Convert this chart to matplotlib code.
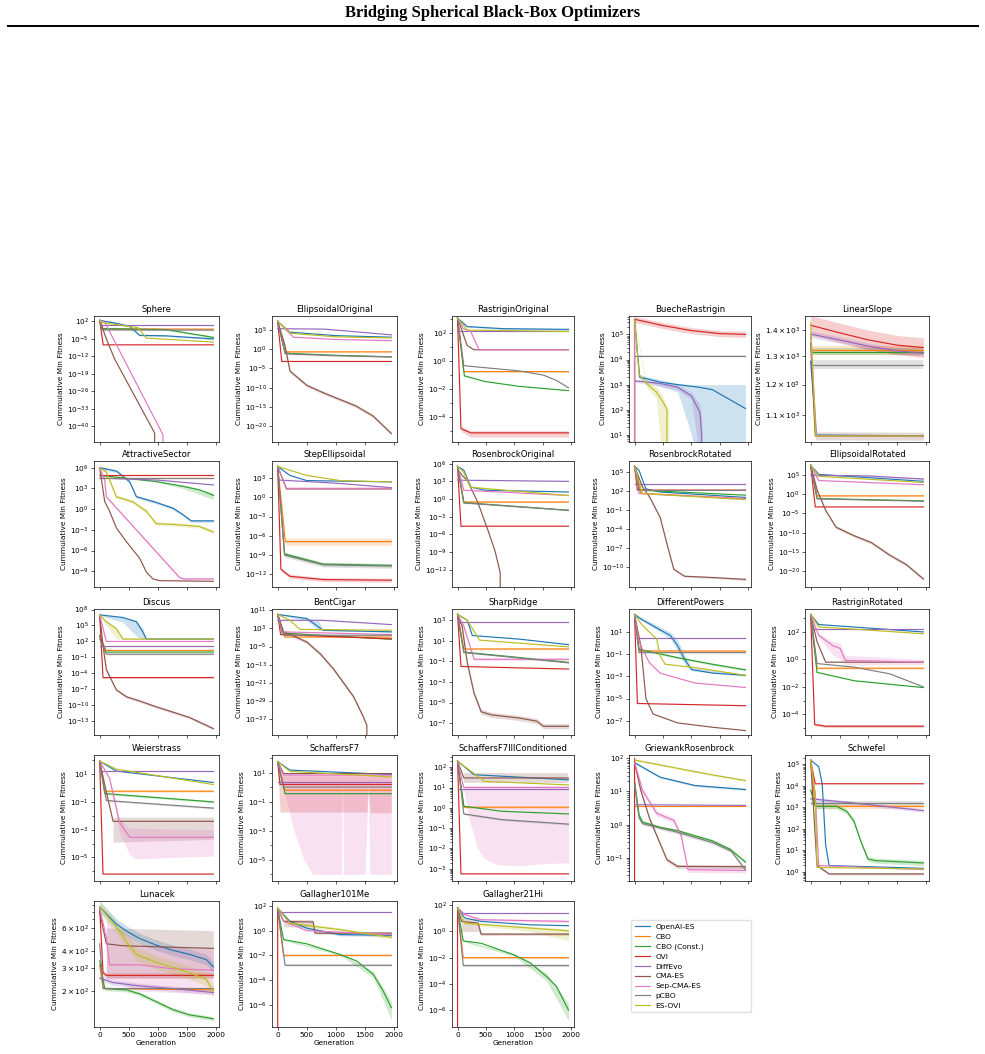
"""Cumulative min fitness of nine optimizers on 23 benchmark functions.

Values are stored as (generation, log10 fitness) knots per method.
DROP marks a run that reaches zero (curve leaves the bottom of the axis).
"""
import math
import numpy as np
import matplotlib
matplotlib.use('Agg')
import matplotlib.pyplot as plt
from matplotlib.lines import Line2D
from matplotlib.ticker import FixedLocator, NullFormatter, NullLocator

METHODS = ['OpenAI-ES', 'CBO', 'CBO (Const.)', 'OVI', 'DiffEvo', 'CMA-ES',
           'Sep-CMA-ES', 'pCBO', 'ES-OVI']
COLORS = ['#1f77b4', '#ff7f0e', '#2ca02c', '#d62728', '#9467bd', '#8c564b',
          '#e377c2', '#7f7f7f', '#bcbd22']
DROP = -300
GEN_TICKS = [0, 500, 1000, 1500, 2000]

# ---------------------------------------------------------------- row 1
SPHERE = {
    'OpenAI-ES': [(0, 2.4), (250, 1.4), (514, 0.0), (686, -3.6), (1140, -3.8), (1950, -5.0)],
    'CBO': [(0, 2.4), (60, -1.0), (1950, -1.1)],
    'CBO (Const.)': [(0, 2.4), (40, -0.9), (1140, -1.3), (1950, -4.4)],
    'OVI': [(0, 2.4), (60, -7.4), (1950, -7.4)],
    'DiffEvo': [(0, 0.65), (1950, 0.65)],
    'CMA-ES': [(0, 2.4), (114, -5.0), (257, -13.1), (943, -42.7), (950, DROP)],
    'Sep-CMA-ES': [(0, 2.4), (86, 1.7), (1086, -43.4), (1095, DROP)],
    'pCBO': [(0, 2.4), (40, -1.4), (1950, -1.5)],
    'ES-OVI': [(0, 2.4), (30, 1.5), (657, -0.5), (800, -4.7), (1950, -6.3)],
}
SPHERE_BANDS = {'OpenAI-ES': 0.3, 'CBO (Const.)': 0.3, 'pCBO': 0.2}

ELLIPSOIDAL_ORIGINAL = {
    'OpenAI-ES': [(0, 7.2), (211, 4.4), (1000, 3.5), (1950, 3.1)],
    'CBO': [(0, 7.2), (126, -0.7), (1950, -0.7)],
    'CBO (Const.)': [(0, 7.2), (126, -1.05), (1000, -1.6), (1950, -2.0)],
    'OVI': [(0, 7.2), (70, -3.2), (1950, -3.2)],
    'DiffEvo': [(0, 5.3), (800, 5.2), (1950, 3.7)],
    'CMA-ES': [(0, 7.2), (126, 0.9), (211, -5.7), (500, -9.4), (780, -11.3),
               (1350, -14.8), (1640, -17.4), (1950, -21.9)],
    'Sep-CMA-ES': [(0, 7.2), (270, 3.1), (1000, 2.5), (1950, 2.2)],
    'pCBO': [(0, 7.2), (130, -1.2), (1000, -1.7), (1950, -2.0)],
    'ES-OVI': [(0, 7.2), (230, 4.1), (1000, 3.2), (1950, 2.9)],
}
ELLIPSOIDAL_ORIGINAL_BANDS = {'CMA-ES': 0.4, 'pCBO': 0.2, 'CBO': 0.15}

RASTRIGIN_ORIGINAL = {
    'OpenAI-ES': [(0, 3.05), (170, 2.45), (800, 2.3), (1950, 2.25)],
    'CBO': [(0, 3.05), (110, -0.75), (1950, -0.75)],
    'CBO (Const.)': [(0, 3.05), (120, -1.05), (475, -1.45), (1085, -1.8), (1950, -2.1)],
    'OVI': [(0, 3.05), (60, -4.8), (230, -5.1), (1950, -5.1)],
    'DiffEvo': [(0, 2.15), (1950, 2.15)],
    'CMA-ES': [(0, 3.05), (170, 1.1), (290, 0.8), (1950, 0.8)],
    'Sep-CMA-ES': [(0, 3.05), (100, 2.3), (230, 2.1), (380, 0.8), (1950, 0.8)],
    'pCBO': [(0, 3.05), (110, -0.33), (1085, -0.7), (1510, -1.0), (1750, -1.4), (1950, -1.9)],
    'ES-OVI': [(0, 3.05), (170, 2.2), (1950, 2.1)],
}
RASTRIGIN_ORIGINAL_BANDS = {'OVI': [(60, -5.0, -4.6), (230, -5.4, -4.95), (1950, -5.4, -4.95)],
                            'CBO': 0.05, 'OpenAI-ES': 0.05}

BUECHE_RASTRIGIN = {
    'OpenAI-ES': [(0, 5.6), (90, 3.3), (270, 3.2), (450, 3.1), (760, 3.0), (1125, 2.9),
                  (1370, 2.8), (1680, 2.4), (1950, 2.05)],
    'CBO': [(0, 5.6), (30, DROP)],
    'CBO (Const.)': [(0, 3.9), (1, DROP)],
    'OVI': [(0, 5.6), (500, 5.35), (1000, 5.15), (1500, 5.03), (1950, 5.0)],
    'DiffEvo': [(0, 3.15), (450, 3.05), (755, 2.9), (1000, 2.55), (1150, 1.9), (1180, 1.0), (1185, DROP)],
    'CMA-ES': [(0, 5.6), (30, DROP)],
    'Sep-CMA-ES': [(0, 5.6), (49, DROP)],
    'pCBO': [(0, 4.15), (1950, 4.15)],
    'ES-OVI': [(0, 5.6), (80, 3.4), (202, 3.06), (386, 2.7), (509, 2.28), (570, 2.0), (589, DROP)],
}
BUECHE_RASTRIGIN_BANDS = {
    'OpenAI-ES': [(0, 5.5, 5.7), (90, 3.2, 3.4), (450, 2.95, 3.2), (760, 2.7, 3.05),
                  (1000, 1.0, 3.0), (1100, 0.0, 3.0), (1950, 0.0, 3.0)],
    'OVI': 0.12,
    'pCBO': 0.04,
    'DiffEvo': [(0, 3.1, 3.2), (755, 2.8, 3.0), (1000, 2.4, 2.7), (1150, 0.0, 2.2), (1185, 0.0, 1.5)],
    'ES-OVI': [(0, 5.5, 5.7), (202, 2.95, 3.15), (386, 2.45, 2.9), (480, 0.0, 2.6), (600, 0.0, 2.0)],
}

LINEAR_SLOPE = {
    'OpenAI-ES': [(0, 3.108), (100, 3.017), (1950, 3.016)],
    'CBO': [(0, 3.1212), (1950, 3.1212)],
    'CBO (Const.)': [(0, 3.1199), (1950, 3.1199)],
    'OVI': [(0, 3.1523), (500, 3.1430), (1000, 3.1342), (1500, 3.1277), (1950, 3.1248)],
    'DiffEvo': [(0, 3.1414), (500, 3.1342), (1000, 3.1265), (1500, 3.1206), (1950, 3.1179)],
    'CMA-ES': [(0, 3.13), (80, 3.016), (1950, 3.0155)],
    'Sep-CMA-ES': [(0, 3.14), (100, 3.016), (1950, 3.015)],
    'pCBO': [(0, 3.1038), (1950, 3.1038)],
    'ES-OVI': [(0, 3.155), (90, 3.0158), (1950, 3.0158)],
}
LINEAR_SLOPE_BANDS = {'OVI': 0.012, 'DiffEvo': 0.004, 'CBO': 0.006, 'CBO (Const.)': 0.004,
                      'pCBO': 0.006, 'CMA-ES': 0.005}

# ---------------------------------------------------------------- row 2
ATTRACTIVE_SECTOR = {
    'OpenAI-ES': [(0, 6.0), (290, 5.5), (514, 3.97), (630, 1.8), (970, 0.97), (1257, 0.14),
                  (1430, -0.8), (1570, -1.7), (1950, -1.7)],
    'CBO': [(0, 4.55), (1950, 4.55)],
    'CBO (Const.)': [(0, 4.9), (970, 4.0), (1430, 3.3), (1710, 2.8), (1950, 2.0)],
    'OVI': [(0, 5.0), (1950, 5.0)],
    'DiffEvo': [(0, 4.5), (1000, 4.2), (1950, 3.5)],
    'CMA-ES': [(0, 6.0), (86, 1.1), (170, -0.3), (285, -2.7), (457, -4.7), (685, -7.1),
               (800, -9.1), (914, -10.1), (1030, -10.35), (1950, -10.45)],
    'Sep-CMA-ES': [(0, 6.0), (86, 4.2), (114, 1.8), (1370, -9.9), (1450, -10.1), (1950, -10.1)],
    'pCBO': [(0, 4.5), (1950, 4.5)],
    'ES-OVI': [(0, 6.0), (114, 5.4), (285, 1.8), (570, 1.06), (800, -0.3), (970, -2.1),
               (1257, -2.2), (1710, -2.5), (1950, -3.3)],
}
ATTRACTIVE_SECTOR_BANDS = {
    'CBO (Const.)': [(0, 4.85, 4.95), (970, 3.9, 4.1), (1430, 3.0, 3.5), (1950, 1.4, 2.4)],
    'OpenAI-ES': 0.2, 'ES-OVI': 0.25, 'Sep-CMA-ES': 0.15,
}

STEP_ELLIPSOIDAL = {
    'OpenAI-ES': [(0, 4.8), (210, 3.4), (500, 2.6), (1950, 2.4)],
    'CBO': [(0, 4.8), (130, -6.9), (1950, -6.9)],
    'CBO (Const.)': [(0, 4.8), (115, -8.8), (780, -10.4), (1950, -10.6)],
    'OVI': [(0, 4.8), (55, -11.2), (210, -12.3), (780, -12.8), (1950, -12.9)],
    'DiffEvo': [(0, 2.7), (1000, 2.2), (1950, 1.5)],
    'CMA-ES': [(0, 4.8), (100, 2.5), (150, 1.3), (1950, 1.3)],
    'Sep-CMA-ES': [(0, 4.8), (70, 3.2), (150, 1.4), (1950, 1.4)],
    'pCBO': [(0, 4.8), (120, -9.0), (780, -10.5), (1950, -10.7)],
    'ES-OVI': [(0, 4.8), (500, 3.4), (1070, 2.6), (1950, 2.4)],
}
STEP_ELLIPSOIDAL_BANDS = {'CBO': 0.55, 'CBO (Const.)': 0.25, 'pCBO': 0.35, 'OVI': 0.3}

ROSENBROCK_ORIGINAL = {
    'OpenAI-ES': [(0, 5.55), (110, 4.9), (230, 2.05), (475, 1.5), (1950, 1.2)],
    'CBO': [(0, 5.55), (110, -0.5), (1950, -0.5)],
    'CBO (Const.)': [(0, 5.55), (110, -0.6), (1950, -1.9)],
    'OVI': [(0, 5.55), (60, -4.6), (1950, -4.6)],
    'DiffEvo': [(0, 3.2), (1950, 3.0)],
    'CMA-ES': [(0, 5.0), (100, 3.8), (171, 3.2), (354, -0.5), (537, -5.35), (659, -8.8),
               (750, -12.45), (762, DROP)],
    'Sep-CMA-ES': [(0, 5.55), (110, 1.5), (1950, 0.6)],
    'pCBO': [(0, 5.55), (110, -0.65), (1950, -1.9)],
    'ES-OVI': [(0, 5.55), (110, 4.5), (230, 2.0), (1950, 0.6)],
}
ROSENBROCK_ORIGINAL_BANDS = {'CBO': 0.12, 'pCBO': 0.1}

ROSENBROCK_ROTATED = {
    'OpenAI-ES': [(0, 5.85), (80, 5.2), (200, 2.3), (450, 1.8), (1950, 0.95)],
    'CBO': [(0, 5.85), (110, 1.6), (1950, 0.75)],
    'CBO (Const.)': [(0, 5.85), (80, 2.1), (1950, 1.3)],
    'OVI': [(0, 5.85), (50, 2.1), (1950, 2.1)],
    'DiffEvo': [(0, 3.1), (1950, 3.1)],
    'CMA-ES': [(0, 5.85), (140, 2.6), (265, 1.0), (450, -2.2), (570, -6.4), (690, -10.4),
               (880, -11.5), (1370, -11.7), (1950, -12.0)],
    'Sep-CMA-ES': [(0, 5.85), (80, 1.55), (1950, 0.75)],
    'pCBO': [(0, 5.85), (80, 2.05), (1950, 2.05)],
    'ES-OVI': [(0, 5.85), (140, 1.55), (1950, 0.6)],
}
ROSENBROCK_ROTATED_BANDS = {'CMA-ES': 0.15}

ELLIPSOIDAL_ROTATED = {
    'OpenAI-ES': [(0, 7.6), (140, 5.2), (1950, 3.4)],
    'CBO': [(0, 7.6), (110, -0.4), (1950, -0.4)],
    'CBO (Const.)': [(0, 7.6), (110, -1.1), (1950, -1.7)],
    'OVI': [(0, 7.6), (80, -3.3), (1950, -3.3)],
    'DiffEvo': [(0, 5.0), (1000, 4.8), (1950, 4.0)],
    'CMA-ES': [(0, 7.6), (110, 1.2), (260, -4.2), (440, -8.6), (750, -10.8), (1050, -12.6),
               (1350, -15.7), (1660, -18.4), (1950, -22.1)],
    'Sep-CMA-ES': [(0, 7.6), (140, 3.6), (1950, 2.5)],
    'pCBO': [(0, 7.6), (115, -1.2), (1950, -1.8)],
    'ES-OVI': [(0, 7.6), (140, 4.7), (1950, 3.1)],
}
ELLIPSOIDAL_ROTATED_BANDS = {'CMA-ES': 0.4, 'CBO': 0.2, 'DiffEvo': 0.2}

# ---------------------------------------------------------------- row 3
DISCUS = {
    'OpenAI-ES': [(0, 7.0), (400, 6.5), (630, 5.7), (740, 3.8), (800, 2.45), (1950, 2.45)],
    'CBO': [(0, 3.0), (114, 0.3), (1950, 0.3)],
    'CBO (Const.)': [(0, 3.1), (100, 0.0), (1950, 0.0)],
    'OVI': [(0, 7.0), (57, -4.8), (1950, -4.8)],
    'DiffEvo': [(0, 1.2), (1950, 1.2)],
    'CMA-ES': [(0, 7.0), (57, 1.2), (114, -3.3), (285, -7.1), (457, -8.4), (685, -9.2),
               (970, -10.3), (1257, -11.3), (1540, -12.3), (1950, -14.4)],
    'Sep-CMA-ES': [(0, 7.0), (114, 2.0), (1950, 2.0)],
    'pCBO': [(0, 2.5), (114, -0.4), (1950, -0.4)],
    'ES-OVI': [(0, 7.0), (114, 5.7), (285, 4.4), (400, 2.45), (1950, 2.45)],
}
DISCUS_BANDS = {
    'OpenAI-ES': [(0, 6.9, 7.1), (400, 5.6, 6.6), (630, 3.0, 6.0), (740, 2.4, 4.5),
                  (800, 2.4, 2.5), (1950, 2.4, 2.5)],
    'ES-OVI': [(0, 6.9, 7.1), (114, 5.0, 5.9), (285, 2.5, 4.6), (400, 2.4, 2.6), (1950, 2.4, 2.5)],
    'CMA-ES': 0.25, 'OVI': 0.1, 'pCBO': 0.15,
}

BENT_CIGAR = {
    'OpenAI-ES': [(0, 9.2), (500, 7.4), (780, 2.2), (1950, 1.5)],
    'CBO': [(0, 9.2), (126, -0.8), (1950, -0.8)],
    'CBO (Const.)': [(0, 9.2), (80, 1.0), (1950, -1.8)],
    'OVI': [(0, 9.2), (50, 0.3), (1950, -1.6)],
    'DiffEvo': [(0, 6.6), (780, 6.6), (1950, 4.7)],
    'CMA-ES': [(0, 9.2), (100, 1.5), (270, -0.3), (500, -3.0), (730, -8.2), (960, -15.0),
               (1300, -27.1), (1470, -36.1), (1530, -39.9), (1540, DROP)],
    'Sep-CMA-ES': [(0, 9.2), (70, 1.5), (1950, 0.3)],
    'pCBO': [(0, 9.2), (100, 0.0), (1950, 0.0)],
    'ES-OVI': [(0, 9.2), (210, 6.6), (380, 2.6), (1950, 2.2)],
}
BENT_CIGAR_BANDS = {'CMA-ES': 0.8,
                    'OpenAI-ES': [(0, 9.0, 9.4), (500, 6.5, 7.6), (700, 2.2, 6.5), (780, 2.0, 2.5), (1950, 1.3, 1.7)]}

SHARP_RIDGE = {
    'OpenAI-ES': [(0, 3.55), (170, 3.0), (260, 1.5), (1080, 1.16), (1950, 0.62)],
    'CBO': [(0, 3.55), (110, 0.2), (1950, 0.2)],
    'CBO (Const.)': [(0, 3.55), (110, -0.1), (1950, -1.1)],
    'OVI': [(0, 3.55), (60, -1.5), (1950, -1.75)],
    'DiffEvo': [(0, 2.77), (1950, 2.77)],
    'CMA-ES': [(0, 3.55), (80, 2.4), (170, -1.1), (290, -4.1), (415, -5.9), (600, -6.2),
               (1080, -6.5), (1390, -6.8), (1510, -7.3), (1950, -7.3)],
    'Sep-CMA-ES': [(0, 3.55), (110, 2.4), (290, -0.8), (1950, -0.8)],
    'pCBO': [(0, 3.55), (110, -0.15), (1950, -1.15)],
    'ES-OVI': [(0, 3.55), (170, 3.0), (385, 1.06), (1950, 0.4)],
}
SHARP_RIDGE_BANDS = {'CMA-ES': 0.25, 'Sep-CMA-ES': 0.12, 'CBO': 0.08}

DIFFERENT_POWERS = {
    'OpenAI-ES': [(0, 2.6), (140, 2.1), (630, 0.7), (755, -0.2), (880, -1.45), (1000, -2.37),
                  (1370, -2.7), (1950, -2.9)],
    'CBO': [(0, 2.6), (80, -0.7), (1950, -0.7)],
    'CBO (Const.)': [(0, 2.6), (80, -0.55), (755, -1.3), (1370, -1.9), (1950, -2.4)],
    'OVI': [(0, 2.6), (50, -5.45), (1950, -5.65)],
    'DiffEvo': [(0, 0.5), (1950, 0.5)],
    'CMA-ES': [(0, 2.6), (110, -0.2), (200, -5.0), (325, -6.4), (755, -7.2), (1370, -7.6), (1950, -7.9)],
    'Sep-CMA-ES': [(0, 2.6), (80, 0.1), (260, -1.75), (450, -2.7), (1060, -3.6), (1950, -4.0)],
    'pCBO': [(0, 2.6), (80, -0.85), (1950, -0.85)],
    'ES-OVI': [(0, 2.6), (140, 1.6), (390, 0.38), (450, -1.15), (540, -1.9), (1060, -2.2), (1950, -2.9)],
}
DIFFERENT_POWERS_BANDS = {
    'OpenAI-ES': [(0, 2.5, 2.7), (630, 0.4, 1.0), (755, -0.7, 0.3), (880, -1.9, -1.0),
                  (1000, -2.5, -2.2), (1950, -3.0, -2.8)],
    'CBO (Const.)': 0.1, 'CBO': 0.08,
}

RASTRIGIN_ROTATED = {
    'OpenAI-ES': [(0, 3.27), (140, 2.54), (1950, 2.0)],
    'CBO': [(0, 3.27), (110, -0.64), (1950, -0.64)],
    'CBO (Const.)': [(0, 3.27), (110, -0.94), (750, -1.55), (1950, -2.05)],
    'OVI': [(0, 3.27), (70, -4.74), (260, -4.86), (1950, -4.86)],
    'DiffEvo': [(0, 2.25), (1950, 2.25)],
    'CMA-ES': [(0, 3.27), (110, 1.3), (260, -0.2), (1950, -0.2)],
    'Sep-CMA-ES': [(0, 3.27), (140, 1.75), (385, 1.0), (510, 0.8), (600, -0.07), (1950, -0.2)],
    'pCBO': [(0, 3.27), (110, -0.3), (750, -0.56), (1370, -1.05), (1950, -2.0)],
    'ES-OVI': [(0, 3.27), (140, 2.37), (1950, 1.87)],
}
RASTRIGIN_ROTATED_BANDS = {
    'Sep-CMA-ES': [(140, 1.6, 1.9), (385, 0.3, 1.3), (510, 0.0, 1.2), (600, -0.4, 0.3), (1950, -0.4, 0.0)],
    'OVI': 0.1, 'CBO': 0.06,
}

# ---------------------------------------------------------------- row 4
WEIERSTRASS = {
    'OpenAI-ES': [(0, 1.94), (285, 1.22), (1950, 0.4)],
    'CBO': [(0, 1.94), (86, -0.23), (1950, -0.23)],
    'CBO (Const.)': [(0, 1.94), (86, -0.4), (1950, -1.0)],
    'OVI': [(0, 1.94), (57, -6.2), (1950, -6.2)],
    'DiffEvo': [(0, 1.24), (1950, 1.24)],
    'CMA-ES': [(0, 1.94), (114, -0.28), (230, -2.4), (1950, -2.4)],
    'Sep-CMA-ES': [(0, 1.94), (170, 0.7), (340, -2.47), (515, -3.55), (1950, -3.55)],
    'pCBO': [(0, 1.94), (114, -0.9), (1950, -1.45)],
    'ES-OVI': [(0, 1.94), (285, 1.36), (1950, 0.25)],
}
WEIERSTRASS_BANDS = {
    'Sep-CMA-ES': [(170, 0.6, 0.8), (340, -3.2, -2.2), (515, -4.8, -2.9), (600, -5.1, -2.9), (1950, -4.9, -3.0)],
    'CMA-ES': [(230, -3.9, -2.1), (1950, -3.7, -2.1)],
    'CBO': 0.07, 'CBO (Const.)': 0.07, 'pCBO': 0.06,
}

SCHAFFERS_F7 = {
    'OpenAI-ES': [(0, 1.77), (210, 1.19), (1950, 0.88)],
    'CBO': [(0, 1.77), (126, -0.2), (1950, -0.2)],
    'CBO (Const.)': [(0, 1.77), (126, -0.44), (1950, -0.44)],
    'OVI': [(0, 1.77), (40, 0.2), (1950, 0.2)],
    'DiffEvo': [(0, 0.37), (1950, 0.37)],
    'CMA-ES': [(0, 1.77), (100, 0.95), (1950, 0.95)],
    'Sep-CMA-ES': [(0, 1.77), (100, 0.84), (1950, 0.84)],
    'pCBO': [(0, 1.77), (100, 0.02), (1950, 0.02)],
    'ES-OVI': [(0, 1.77), (210, 1.1), (1950, 0.72)],
}
SCHAFFERS_F7_BANDS = {
    'OVI': [(0, 1.7, 1.85), (40, -1.7, 0.8), (1530, -1.7, 0.8), (1555, 0.2, 0.8),
            (1585, -1.75, 0.8), (1950, -1.75, 0.8)],
    'Sep-CMA-ES': [(0, 1.7, 1.85), (100, 0.0, 1.0), (280, -3.0, 1.0), (450, -5.0, 1.0), (600, -6.0, 1.0),
                   (1095, -6.0, 1.0), (1100, 0.0, 1.0), (1120, 0.0, 1.0), (1126, -6.0, 1.0),
                   (1497, -6.0, 1.0), (1554, -0.2, 1.0), (1583, -6.0, 1.0), (1950, -6.0, 1.0)],
}

SCHAFFERS_F7_ILL = {
    'OpenAI-ES': [(0, 2.3), (290, 1.63), (1950, 1.38)],
    'CBO': [(0, 2.3), (110, 0.03), (1950, 0.03)],
    'CBO (Const.)': [(0, 2.3), (110, 0.08), (780, -0.17), (1950, -0.3)],
    'OVI': [(0, 2.3), (60, -3.25), (1950, -3.25)],
    'DiffEvo': [(0, 0.95), (1950, 0.95)],
    'CMA-ES': [(0, 2.3), (110, 1.47), (1950, 1.47)],
    'Sep-CMA-ES': [(0, 2.3), (110, 1.0), (1950, 1.0)],
    'pCBO': [(0, 2.3), (110, -0.3), (780, -0.58), (1950, -0.8)],
    'ES-OVI': [(0, 2.3), (475, 1.3), (1950, 1.13)],
}
SCHAFFERS_F7_ILL_BANDS = {
    'CMA-ES': [(110, 1.2, 1.7), (1950, 1.2, 1.7)],
    'Sep-CMA-ES': [(110, 0.9, 1.1), (200, -0.5, 1.1), (350, -2.0, 1.1), (475, -2.5, 1.1), (700, -2.8, 1.1),
                   (1100, -2.85, 1.1), (1500, -2.75, 1.1), (1950, -2.7, 1.1)],
    'CBO': 0.05, 'pCBO': 0.05,
}

GRIEWANK_ROSENBROCK = {
    'OpenAI-ES': [(0, 1.87), (450, 1.43), (1060, 1.18), (1950, 1.06)],
    'CBO': [(0, 0.55), (1950, 0.55)],
    'CBO (Const.)': [(0, 1.3), (80, 0.29), (140, 0.08), (450, -0.08), (755, -0.18), (1370, -0.49),
                     (1680, -0.74), (1950, -1.13)],
    'OVI': [(0, 2.0), (5, DROP)],
    'DiffEvo': [(0, 0.6), (1950, 0.58)],
    'CMA-ES': [(0, 1.87), (110, 1.03), (265, 0.18), (390, -0.33), (570, -1.06), (755, -1.26), (1950, -1.27)],
    'Sep-CMA-ES': [(0, 1.87), (140, 1.03), (390, 0.34), (690, 0.13), (820, -0.33), (940, -1.36), (1950, -1.38)],
    'pCBO': [(0, 1.2), (80, 0.2), (140, 0.03), (755, -0.23), (1370, -0.54), (1700, -0.8), (1950, -1.36)],
    'ES-OVI': [(0, 1.95), (755, 1.7), (1370, 1.5), (1950, 1.33)],
}
GRIEWANK_ROSENBROCK_BANDS = {'CMA-ES': 0.06, 'Sep-CMA-ES': 0.08, 'pCBO': 0.05, 'CBO (Const.)': 0.04,
                             'ES-OVI': 0.03, 'OpenAI-ES': 0.03}

SCHWEFEL = {
    'OpenAI-ES': [(0, 5.2), (140, 4.9), (200, 4.1), (260, 1.24), (320, 0.29), (1950, 0.16)],
    'CBO': [(0, 5.2), (80, 3.05), (1950, 3.05)],
    'CBO (Const.)': [(0, 3.8), (80, 3.05), (450, 3.05), (630, 2.8), (750, 2.35), (870, 1.4),
                     (990, 0.6), (1120, 0.52), (1950, 0.41)],
    'OVI': [(0, 5.2), (80, 4.1), (1950, 4.1)],
    'DiffEvo': [(0, 3.4), (750, 3.2), (1950, 2.85)],
    'CMA-ES': [(0, 5.2), (110, 0.29), (320, -0.1), (1950, -0.1)],
    'Sep-CMA-ES': [(0, 5.2), (80, 3.6), (140, 0.29), (1950, 0.1)],
    'pCBO': [(0, 3.2), (1950, 3.2)],
    'ES-OVI': [(0, 5.2), (80, 3.6), (110, 0.2), (1950, 0.13)],
}
SCHWEFEL_BANDS = {'CBO (Const.)': 0.12, 'CBO': 0.1, 'pCBO': 0.08, 'DiffEvo': 0.08, 'CMA-ES': 0.05}

# ---------------------------------------------------------------- row 5
LUNACEK = {
    'OpenAI-ES': [(0, 2.94), (285, 2.81), (485, 2.75), (685, 2.70), (970, 2.65), (1257, 2.61),
                  (1540, 2.58), (1830, 2.54), (1950, 2.485)],
    'CBO': [(0, 2.5), (60, 2.32), (1950, 2.31)],
    'CBO (Const.)': [(0, 2.53), (86, 2.32), (457, 2.31), (685, 2.28), (970, 2.22), (1257, 2.16),
                     (1540, 2.12), (1830, 2.10), (1950, 2.09)],
    'OVI': [(0, 2.93), (57, 2.44), (114, 2.42), (1950, 2.42)],
    'DiffEvo': [(0, 2.40), (230, 2.365), (685, 2.34), (1257, 2.32), (1950, 2.29)],
    'CMA-ES': [(0, 2.90), (114, 2.66), (400, 2.645), (1950, 2.625)],
    'Sep-CMA-ES': [(0, 2.93), (114, 2.71), (170, 2.50), (685, 2.50), (1257, 2.47), (1950, 2.46)],
    'pCBO': [(0, 2.66), (60, 2.32), (1950, 2.32)],
    'ES-OVI': [(0, 2.94), (285, 2.79), (485, 2.66), (630, 2.58), (970, 2.52), (1257, 2.48),
               (1540, 2.44), (1830, 2.39), (1950, 2.30)],
}
LUNACEK_BANDS = {
    'Sep-CMA-ES': [(114, 2.4, 2.85), (685, 2.3, 2.65), (1950, 2.28, 2.62)],
    'CMA-ES': [(114, 2.4, 2.78), (1950, 2.4, 2.76)],
    'OpenAI-ES': 0.04, 'ES-OVI': 0.05, 'OVI': 0.02, 'DiffEvo': 0.02, 'CBO (Const.)': 0.015,
}

GALLAGHER_101ME = {
    'OpenAI-ES': [(0, 1.8), (210, 0.75), (500, 0.2), (1070, -0.32), (1950, -0.38)],
    'CBO': [(0, 1.8), (100, -2.0), (1950, -2.0)],
    'CBO (Const.)': [(0, 1.8), (100, -0.72), (500, -1.07), (1070, -1.93), (1360, -2.47),
                     (1640, -3.54), (1810, -4.88), (1950, -6.24)],
    'OVI': [(0, 1.8), (10, DROP)],
    'DiffEvo': [(0, 1.49), (1950, 1.49)],
    'CMA-ES': [(0, 1.8), (100, 0.75), (610, 0.7), (640, -0.2), (1950, -0.2)],
    'Sep-CMA-ES': [(0, 1.8), (100, 0.75), (500, 0.0), (1950, -0.32)],
    'pCBO': [(0, 1.8), (126, -2.8), (1950, -2.8)],
    'ES-OVI': [(0, 1.8), (210, 0.6), (1070, 0.08), (1950, -0.54)],
}
GALLAGHER_101ME_BANDS = {
    'CMA-ES': [(100, 0.3, 0.9), (600, 0.3, 0.9), (640, -0.3, -0.1), (1950, -0.3, -0.1)],
    'CBO (Const.)': [(100, -0.8, -0.65), (1070, -2.0, -1.85), (1640, -3.8, -3.3), (1950, -7.2, -5.7)],
    'ES-OVI': 0.15, 'OpenAI-ES': 0.1, 'CBO': 0.08, 'pCBO': 0.08,
}

GALLAGHER_21HI = {
    'OpenAI-ES': [(0, 1.82), (127, 1.03), (415, 0.77), (1280, 0.51), (1950, 0.44)],
    'CBO': [(0, 1.82), (100, -2.0), (1950, -2.0)],
    'CBO (Const.)': [(0, 1.82), (100, -0.72), (415, -0.9), (1000, -1.8), (1280, -2.4),
                     (1570, -3.46), (1740, -4.2), (1950, -6.0)],
    'OVI': [(0, 1.82), (10, DROP)],
    'DiffEvo': [(0, 1.43), (1950, 1.43)],
    'CMA-ES': [(0, 1.82), (70, 0.77), (360, 0.64), (415, -0.2), (1950, -0.2)],
    'Sep-CMA-ES': [(0, 1.82), (127, 1.3), (415, 0.9), (1950, 0.77)],
    'pCBO': [(0, 1.82), (100, -2.6), (1950, -2.6)],
    'ES-OVI': [(0, 1.82), (127, 0.64), (1280, 0.26), (1950, 0.05)],
}
GALLAGHER_21HI_BANDS = {
    'CMA-ES': [(70, 0.0, 1.0), (360, 0.0, 1.0), (415, -0.3, -0.1), (1950, -0.3, -0.1)],
    'CBO (Const.)': [(100, -0.8, -0.65), (1000, -1.9, -1.7), (1570, -3.8, -3.2), (1950, -6.8, -5.5)],
    'ES-OVI': [(127, 0.55, 0.75), (1280, 0.0, 0.4), (1950, -0.7, 0.2)],
    'Sep-CMA-ES': 0.1, 'pCBO': 0.1, 'CBO': 0.08,
}

# labelled y values for the two panels that span less than a decade
LINEAR_SLOPE_TICKS = [1100, 1200, 1300, 1400]
LUNACEK_TICKS = [200, 300, 400, 600]
LUNACEK_MINOR = [500, 700, 800, 900]

# title, knots, bands, log10 y-range, labelled decades (list of exponents) or explicit values
PANELS = [
    ('Sphere', SPHERE, SPHERE_BANDS, (-46.3, 4.15), [2, -5, -12, -19, -26, -33, -40]),
    ('EllipsoidalOriginal', ELLIPSOIDAL_ORIGINAL, ELLIPSOIDAL_ORIGINAL_BANDS, (-24.1, 8.6), [5, 0, -5, -10, -15, -20]),
    ('RastriginOriginal', RASTRIGIN_ORIGINAL, RASTRIGIN_ORIGINAL_BANDS, (-5.75, 3.2), [2, 0, -2, -4]),
    ('BuecheRastrigin', BUECHE_RASTRIGIN, BUECHE_RASTRIGIN_BANDS, (0.72, 5.73), [1, 2, 3, 4, 5]),
    ('LinearSlope', LINEAR_SLOPE, LINEAR_SLOPE_BANDS, (3.0084, 3.1637), ('values', LINEAR_SLOPE_TICKS, [])),
    ('AttractiveSector', ATTRACTIVE_SECTOR, ATTRACTIVE_SECTOR_BANDS, (-11.27, 6.97), [6, 3, 0, -3, -6, -9]),
    ('StepEllipsoidal', STEP_ELLIPSOIDAL, STEP_ELLIPSOIDAL_BANDS, (-13.96, 5.65), [3, 0, -3, -6, -9, -12]),
    ('RosenbrockOriginal', ROSENBROCK_ORIGINAL, ROSENBROCK_ORIGINAL_BANDS, (-14.9, 6.45), [6, 3, 0, -3, -6, -9, -12]),
    ('RosenbrockRotated', ROSENBROCK_ROTATED, ROSENBROCK_ROTATED_BANDS, (-13.2, 6.7), [5, 2, -1, -4, -7, -10]),
    ('EllipsoidalRotated', ELLIPSOIDAL_ROTATED, ELLIPSOIDAL_ROTATED_BANDS, (-24.2, 8.7), [5, 0, -5, -10, -15, -20]),
    ('Discus', DISCUS, DISCUS_BANDS, (-15.6, 8.1), [8, 5, 2, -1, -4, -7, -10, -13]),
    ('BentCigar', BENT_CIGAR, BENT_CIGAR_BANDS, (-44.1, 11.6), [11, 3, -5, -13, -21, -29, -37]),
    ('SharpRidge', SHARP_RIDGE, SHARP_RIDGE_BANDS, (-8.15, 4.08), [3, 1, -1, -3, -5, -7]),
    ('DifferentPowers', DIFFERENT_POWERS, DIFFERENT_POWERS_BANDS, (-8.3, 3.1), [1, -1, -3, -5, -7]),
    ('RastriginRotated', RASTRIGIN_ROTATED, RASTRIGIN_ROTATED_BANDS, (-5.5, 3.67), [2, 0, -2, -4]),
    ('Weierstrass', WEIERSTRASS, WEIERSTRASS_BANDS, (-6.7, 2.38), [1, -1, -3, -5]),
    ('SchaffersF7', SCHAFFERS_F7, SCHAFFERS_F7_BANDS, (-6.46, 2.23), [1, -1, -3, -5]),
    ('SchaffersF7IllConditioned', SCHAFFERS_F7_ILL, SCHAFFERS_F7_ILL_BANDS, (-3.6, 2.6), [2, 1, 0, -1, -2, -3]),
    ('GriewankRosenbrock', GRIEWANK_ROSENBROCK, GRIEWANK_ROSENBROCK_BANDS, (-1.7, 2.1), [2, 1, 0, -1]),
    ('Schwefel', SCHWEFEL, SCHWEFEL_BANDS, (-0.43, 5.44), [0, 1, 2, 3, 4, 5]),
    ('Lunacek', LUNACEK, LUNACEK_BANDS, (2.028, 2.985), ('values', LUNACEK_TICKS, LUNACEK_MINOR)),
    ('Gallagher101Me', GALLAGHER_101ME, GALLAGHER_101ME_BANDS, (-7.8, 2.4), [2, 0, -2, -4, -6]),
    ('Gallagher21Hi', GALLAGHER_21HI, GALLAGHER_21HI_BANDS, (-7.3, 2.33), [2, 0, -2, -4, -6]),
]

# layout in pixels of the 985x1054 page
FIG_W, FIG_H = 985, 1054
COL_LEFT = [94, 272, 452, 629, 805]
COL_RIGHT = [219, 397, 574, 751, 929]
ROW_TOP = [316, 461, 609, 755, 901]
AX_H = 126
FS = 5.3


def minor_ticks(lo, hi, major):
    emin, emax = math.ceil(lo), math.floor(hi)
    if emax - emin + 1 >= 10:
        return []
    if abs(major[1] - major[0]) > 1:
        return [10.0 ** e for e in range(emin, emax + 1) if e not in major]
    out = []
    for e in range(emin - 1, emax + 1):
        for m in range(2, 10):
            if lo <= math.log10(m) + e <= hi:
                out.append(m * 10.0 ** e)
    return out


def draw_panel(ax, title, series, bands, ylim, ticks, bottom_row):
    for name, color in zip(METHODS, COLORS):
        pts = np.array(series[name], dtype=float)
        x, v = pts[:, 0], pts[:, 1]
        band = bands.get(name)
        if band is not None:
            if np.isscalar(band):
                keep = v > DROP / 2
                ax.fill_between(x[keep], 10 ** (v[keep] - band), 10 ** (v[keep] + band),
                                color=color, alpha=0.22, lw=0)
            else:
                b = np.array(band, dtype=float)
                ax.fill_between(b[:, 0], 10 ** b[:, 1], 10 ** b[:, 2], color=color, alpha=0.22, lw=0)
        ax.plot(x, 10 ** v, color=color, lw=0.85)

    ax.set_yscale('log')
    ax.set_ylim(10 ** ylim[0], 10 ** ylim[1])
    ax.set_xlim(-97.5, 2047.5)
    ax.set_xticks(GEN_TICKS)
    ax.xaxis.set_minor_locator(NullLocator())
    if isinstance(ticks, tuple):
        _, major_vals, minor_vals = ticks
        ax.yaxis.set_major_locator(FixedLocator(major_vals))
        ax.yaxis.set_minor_locator(FixedLocator(minor_vals))
    else:
        ax.yaxis.set_major_locator(FixedLocator([10.0 ** e for e in ticks]))
        ax.yaxis.set_minor_locator(FixedLocator(minor_ticks(ylim[0], ylim[1], ticks)))
    ax.yaxis.set_minor_formatter(NullFormatter())
    ax.set_title(title, fontsize=6.1, pad=3.2)
    ax.set_ylabel('Cummulative Min Fitness', fontsize=FS, labelpad=2.2)
    ax.tick_params(which='both', labelsize=FS, width=0.45, pad=1.9)
    ax.tick_params(which='major', length=1.9)
    ax.tick_params(which='minor', length=1.1)
    if bottom_row:
        ax.set_xlabel('Generation', fontsize=FS, labelpad=1.5)
    else:
        ax.tick_params(axis='x', labelbottom=False)
    for sp in ax.spines.values():
        sp.set_linewidth(0.5)


def main():
    fig = plt.figure(figsize=(FIG_W / 100, FIG_H / 100), dpi=100)
    fig.text(0.5, 1 - 13 / FIG_H, 'Bridging Spherical Black-Box Optimizers', ha='center', va='center',
             fontsize=12, fontweight='bold', family='Liberation Serif')
    fig.add_artist(Line2D([8 / FIG_W, 978 / FIG_W], [1 - 25.5 / FIG_H] * 2, color='black', lw=1.4))

    for i, (title, series, bands, ylim, ticks) in enumerate(PANELS):
        r, c = divmod(i, 5)
        left, right, top = COL_LEFT[c], COL_RIGHT[c], ROW_TOP[r]
        ax = fig.add_axes([left / FIG_W, 1 - (top + AX_H) / FIG_H, (right - left) / FIG_W, AX_H / FIG_H])
        draw_panel(ax, title, series, bands, ylim, ticks, bottom_row=(r == 4))

    handles = [Line2D([], [], color=c, lw=0.85) for c in COLORS]
    fig.legend(handles, METHODS, loc='upper left', mode='expand',
               bbox_to_anchor=(631 / FIG_W, 1 - 1015 / FIG_H, 120 / FIG_W, 95 / FIG_H),
               fontsize=5.4, labelspacing=0.47, handlelength=2.0, borderpad=0.5,
               borderaxespad=0, edgecolor='0.85')

    fig.savefig('out.png', dpi=100)
    plt.close(fig)


if __name__ == '__main__':
    main()
